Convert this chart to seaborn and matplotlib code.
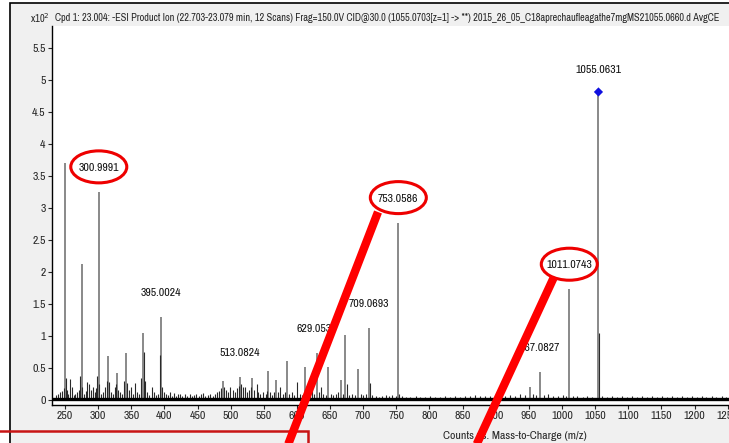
import matplotlib
matplotlib.use("Agg")
import matplotlib.pyplot as plt
import seaborn as sns
import pandas as pd
from matplotlib.patches import Ellipse, Rectangle
from matplotlib.lines import Line2D
from matplotlib import font_manager

# ---------------- data ----------------
title_text = ("Cpd 1: 23.004: -ESI Product Ion (22.703-23.079 min, 12 Scans) Frag=150.0V "
              "CID@30.0 (1055.0703[z=1] -> **) 2015_26_05_C18aprechaufleagathe7mgMS21055.0660.d AvgCE")
x_label = "Counts vs. Mass-to-Charge (m/z)"
y_scale_label = "x10$^2$"

major_mz = [250, 275, 301, 315, 328, 342, 367, 395, 488, 514, 532, 557, 568, 585, 612,
            630, 647, 666, 673, 692, 709, 753, 951, 967, 1011, 1055]
major_int = [3.70, 2.12, 3.25, 0.69, 0.42, 0.74, 1.05, 1.30, 0.29, 0.36, 0.34, 0.45, 0.31, 0.61, 0.52,
             0.73, 0.52, 0.31, 1.02, 0.48, 1.12, 2.77, 0.20, 0.44, 1.73, 4.81]

minor_mz = [237, 240, 243, 246, 248, 251, 253, 255, 258, 260, 263, 265, 268, 271, 273, 276, 279, 281,
            283, 286, 289, 292, 295, 297, 299, 302, 305, 308, 311, 313, 316, 319, 322, 325, 327, 330,
            333, 336, 339, 343, 346, 349, 353, 356, 359, 362, 365, 369, 371, 374, 377, 381, 384, 387,
            390, 393, 396, 399,
            402, 405, 408, 411, 414, 417, 420, 424, 427, 431, 434, 438, 441, 445, 448, 452, 455, 459,
            462, 466, 469, 473, 476, 480, 483, 486, 490, 493, 496, 499,
            503, 506, 509, 512, 516, 519, 521, 524, 527, 530, 535, 539, 542, 545, 549, 553, 555, 560,
            563, 566, 571, 575, 579, 582, 588, 592, 596, 600, 604, 608, 616, 619,
            623, 626, 633, 636, 640, 644, 651, 655, 659, 662, 670, 675, 679, 683, 688, 696, 700, 704,
            710, 714, 719, 724, 729, 734, 739, 744, 749, 754, 758,
            764, 771, 779, 786, 794, 801, 809, 816, 824, 831, 839, 846, 854, 861, 869, 876, 884, 891,
            899, 906, 914, 921, 929, 936, 944, 956, 961, 973, 979, 986, 994, 1001, 1006, 1016, 1023,
            1031, 1038, 1046, 1056, 1061, 1068, 1076, 1083, 1091, 1098, 1106, 1113, 1121, 1128, 1136,
            1143, 1151, 1158, 1166, 1173, 1181, 1188, 1196, 1203, 1211, 1218, 1226, 1233, 1241, 1248]
minor_int = [0.08, 0.10, 0.12, 0.14, 0.18, 0.35, 0.15, 0.10, 0.33, 0.20, 0.08, 0.10, 0.12, 0.15, 0.38,
             0.20, 0.10, 0.14, 0.28, 0.25, 0.15, 0.20, 0.12, 0.18, 0.38, 0.25, 0.10, 0.12, 0.20, 0.30,
             0.28, 0.12, 0.10, 0.20, 0.25, 0.15, 0.12, 0.10, 0.30, 0.26, 0.15, 0.20, 0.10, 0.27, 0.12,
             0.10, 0.35, 0.75, 0.30, 0.12, 0.08, 0.20, 0.12, 0.08, 0.10, 0.70, 0.20, 0.12,
             0.10, 0.08, 0.12, 0.07, 0.11, 0.06, 0.09, 0.10, 0.06, 0.09, 0.07, 0.10, 0.06, 0.08, 0.10,
             0.07, 0.09, 0.11, 0.06, 0.08, 0.10, 0.07, 0.09, 0.12, 0.14, 0.18, 0.20, 0.15, 0.12, 0.20,
             0.15, 0.12, 0.18, 0.22, 0.25, 0.20, 0.20, 0.12, 0.15, 0.20, 0.15, 0.25, 0.12, 0.10, 0.12,
             0.10, 0.14, 0.12, 0.08, 0.12, 0.12, 0.20, 0.10, 0.12, 0.10, 0.12, 0.08, 0.28, 0.10, 0.08,
             0.12, 0.10,
             0.15, 0.10, 0.12, 0.20, 0.10, 0.08, 0.10, 0.08, 0.10, 0.12, 0.10, 0.25, 0.08, 0.10, 0.08,
             0.10, 0.08, 0.10, 0.26, 0.08, 0.06, 0.05, 0.07, 0.08, 0.06, 0.08, 0.07, 0.10, 0.06,
             0.05, 0.04, 0.06, 0.05, 0.04, 0.06, 0.05, 0.04, 0.06, 0.05, 0.06, 0.05, 0.07, 0.06, 0.08,
             0.06, 0.07, 0.06, 0.08, 0.07, 0.06, 0.08, 0.07, 0.09, 0.08, 0.10, 0.08, 0.08, 0.09, 0.07,
             0.06, 0.08, 0.07, 0.06, 0.07, 0.05, 0.06, 0.05, 1.05, 0.06, 0.05, 0.06, 0.05, 0.06, 0.05,
             0.06, 0.05, 0.06, 0.05, 0.06, 0.05, 0.06, 0.05, 0.06, 0.05, 0.06, 0.05, 0.06, 0.05, 0.06,
             0.05, 0.06, 0.05, 0.06, 0.05]

label_mz = [301, 395, 514, 630, 709, 753, 967, 1011, 1055]
label_text = ["300.9991", "395.0024", "513.0824", "629.0532", "709.0693", "753.0586",
              "967.0827", "1011.0743", "1055.0631"]
circled_labels = ["300.9991", "753.0586", "1011.0743"]
precursor_mz = [1055]

y_ticks = [0, 0.5, 1, 1.5, 2, 2.5, 3, 3.5, 4, 4.5, 5, 5.5]
y_tick_labels = ["0", "0.5", "1", "1.5", "2", "2.5", "3", "3.5", "4", "4.5", "5", "5.5"]
x_ticks = [250, 300, 350, 400, 450, 500, 550, 600, 650, 700, 750, 800, 850, 900, 950,
           1000, 1050, 1100, 1150, 1200, 1250]

# ---------------- style ----------------
sns.set_style("white")
fonts = font_manager.fontManager.ttflist
narrow = [f.name for f in fonts if ("Narrow" in f.name or "Condensed" in f.name)]
base_fam = narrow[0] if narrow else "Liberation Sans"
plt.rcParams["font.family"] = [base_fam, "DejaVu Sans"]
if not narrow and any(f.name == "DejaVu Sans" and f.stretch == "condensed" for f in fonts):
    plt.rcParams["font.family"] = ["DejaVu Sans"]
    plt.rcParams["font.stretch"] = "condensed"

W, H = 729, 443
fig = plt.figure(figsize=(W / 100, H / 100), dpi=100, facecolor="white")

# gray panel with black frame
fig.patches.append(Rectangle((10 / W, -0.05), 1.1, 1 - 3 / H + 0.05, transform=fig.transFigure,
                             facecolor="#f0f0f0", edgecolor="black", linewidth=1.2, zorder=-5))

ax_left, ax_bottom = 52 / W, (H - 405) / H
ax = fig.add_axes([ax_left, ax_bottom, 1 - ax_left, (405 - 26) / H])
ax.set_zorder(1)
ax.set_facecolor("white")

df_major = pd.DataFrame({"mz": major_mz, "intensity": major_int})
df_minor = pd.DataFrame({"mz": minor_mz, "intensity": minor_int})

ax.vlines(df_major["mz"], 0, df_major["intensity"], color="#6a6a6a", linewidth=1.1, zorder=2)
ax.vlines(df_minor["mz"], 0, df_minor["intensity"], color="#2a2a2a", linewidth=0.8, zorder=3)
ax.axhline(0.02, color="black", linewidth=2.4, zorder=3)

# precursor marker
pre_int = [major_int[major_mz.index(m)] for m in precursor_mz]
sns.scatterplot(x=precursor_mz, y=pre_int, marker="D", color="#1010e0", s=22, ax=ax,
                zorder=5, edgecolor="none", legend=False)

ax.set_xlim(230.4, 1252)
ax.set_ylim(-0.078, 5.84)
ax.set_yticks(y_ticks)
ax.set_yticklabels(y_tick_labels)
ax.set_xticks(x_ticks)
ax.set_xticklabels([str(t) for t in x_ticks])
ax.tick_params(axis="both", labelsize=8.5, length=3, width=0.8, direction="out", pad=1.5,
               left=True, bottom=True)
for s in ["top", "right"]:
    ax.spines[s].set_visible(False)
for s in ["left", "bottom"]:
    ax.spines[s].set_color("black")
    ax.spines[s].set_linewidth(1.0)

ax.set_xlabel(x_label, fontsize=8.5, labelpad=2)
ax.xaxis.set_label_coords((515 - 52) / (W - 52), -26 / 379)

# peak labels
fig.canvas.draw()
for mz, txt in zip(label_mz, label_text):
    inten = major_int[major_mz.index(mz)]
    off = 22 if mz in precursor_mz else 24
    ax.annotate(txt, xy=(mz, inten), xytext=(0, off), textcoords="offset pixels",
                ha="center", va="center", fontsize=8.5, color="#111111", zorder=6)
    if txt in circled_labels:
        px, py = ax.transData.transform((mz, inten))
        cy = py + off + 1
        e = Ellipse((px / W, cy / H), 56 / W, 32 / H, transform=fig.transFigure,
                    facecolor="none", edgecolor="#ee0000", linewidth=2.2, zorder=7)
        fig.patches.append(e)

# title (fit to the available width) and scale
t = fig.text(55 / W, 1 - 18 / H, title_text, fontsize=8, va="center", ha="left")
fig.canvas.draw()
r = fig.canvas.get_renderer()
wpx = t.get_window_extent(r).width
t.set_fontsize(8 * min(1.0, 668 / wpx))
fig.text(30 / W, 1 - 18 / H, y_scale_label, fontsize=7.5, va="center", ha="left")

# red overlay lines & box
for (x0, y0), (x1, y1) in [((378, 212), (286, 450)), ((554, 277), (474, 450))]:
    fig.lines.append(Line2D([x0 / W, x1 / W], [1 - y0 / H, 1 - y1 / H], transform=fig.transFigure,
                            color="#ff0000", linewidth=6, solid_capstyle="butt", zorder=10))
fig.patches.append(Rectangle((-5 / W, -0.1), 313 / W, (H - 431) / H + 0.1, transform=fig.transFigure,
                             facecolor="none", edgecolor="#c81414", linewidth=1.8, zorder=9))

fig.savefig("out.png", dpi=100, facecolor="white")
